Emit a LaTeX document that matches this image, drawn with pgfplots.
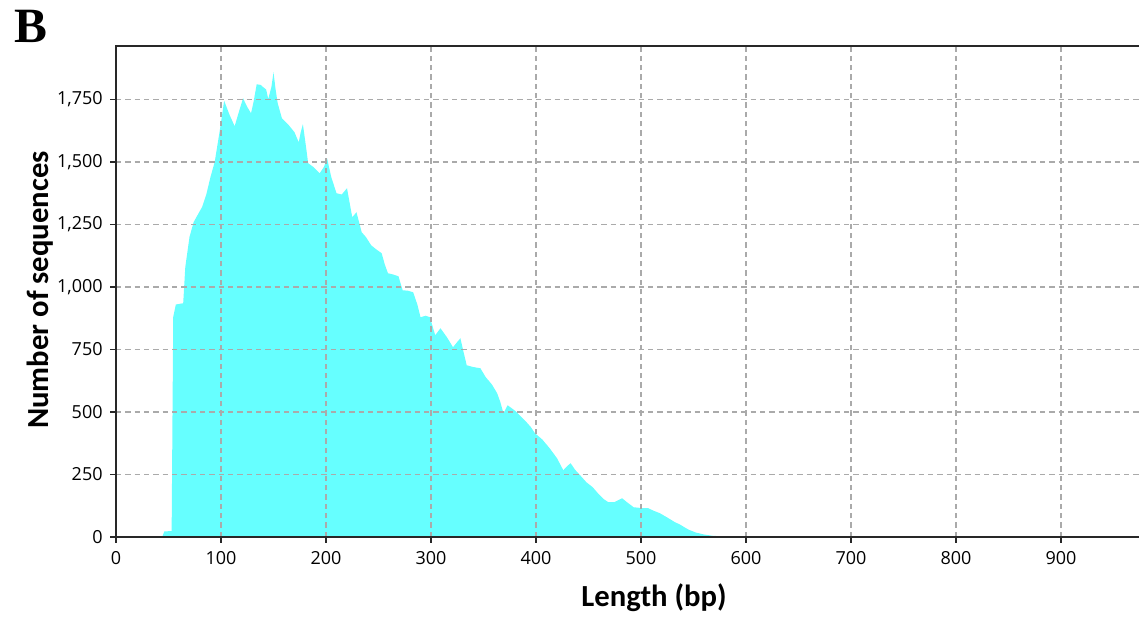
\documentclass[border=0pt]{standalone}
\usepackage{pgfplots}
\pgfplotsset{compat=1.18}
\usepackage{fontspec}
\setmainfont{Open Sans}
\newfontfamily\labfont{Carlito}
\newfontfamily\serfont{Liberation Serif}
\definecolor{fillc}{RGB}{102,255,255}
\definecolor{gridc}{RGB}{170,170,170}
\definecolor{axc}{RGB}{40,40,40}
\begin{document}
\begin{tikzpicture}
\useasboundingbox (0,0) rectangle (854.25pt,462.75pt);
\clip (0,0) rectangle (854.25pt,462.75pt);
\begin{axis}[
  at={(87pt,60pt)}, anchor=south west,
  scale only axis,
  width=787.5pt, height=368.25pt,
  xmin=0, xmax=1000, ymin=0, ymax=1964,
  xtick={0,100,...,900},
  ytick={0,250,...,1750},
  xtick pos=bottom, ytick pos=left,
  tick align=outside,
  major tick length=4.5pt,
  every tick/.style={axc, line width=1.3pt},
  axis line style={axc, line width=1.5pt},
  grid=major,
  major grid style={gridc, dashed, line width=0.8pt, dash pattern=on 4pt off 3pt},
  axis on top,
  ticklabel style={font=\fontsize{13.5}{16}\selectfont},
  /pgf/number format/1000 sep={,},
  /pgf/number format/assume math mode=true,
  xticklabel style={yshift=-3pt},
  yticklabel style={xshift=-2pt},
]
\addplot[fill=fillc, draw=none] table {
x y
44 0
46 22
53 24
54.5 880
57 930
64 935
66 1080
70 1200
74 1260
78 1290
82 1320
86 1370
90 1440
94 1500
99 1630
103 1745
108 1690
113 1643
117 1700
121 1755
125 1720
128.6 1695
131 1740
134 1811
138 1808
140 1800
143 1790
145 1752
148 1800
150 1859
152 1790
154 1735
158 1675
164 1650
170 1619
174 1579
176 1620
178 1651
181 1560
183 1495
188 1480
194 1455
198 1480
201 1515
205 1440
210 1375
215 1370
220 1395
225 1279
229 1299
234 1219
238 1200
243 1167
248 1150
253 1135
256 1090
259 1055
264 1050
269 1043
273 987
278 985
283 979
287 930
290 879
295 885
299 879
304 807
309 835
315 800
321 759
325 780
328 795
331 740
334 687
340 680
347 675
352 640
358 610
363 575
366 540
369 495
373 527
380 505
386 480
391 459
395 440
399 415
406 390
413 355
420 315
426 267
430 285
433 295
437 270
442 247
448 219
454 199
460 170
465 150
469 139
475 140
482 155
487 138
493 119
500 116
507 115
512 105
518 95
525 78
532 60
537 50
545 30
552 18
560 10
568 5
575 3
582 0
} \closedcycle;
\end{axis}
\node[anchor=base, font=\labfont\bfseries\fontsize{23}{27}\selectfont] at (490.5pt,7.5pt) {Length (bp)};
\node[anchor=base, rotate=90, font=\labfont\bfseries\fontsize{23}{27}\selectfont] at (36pt,245.25pt) {Number of sequences};
\node[anchor=base west, inner sep=0pt, font=\serfont\bfseries\fontsize{37}{40}\selectfont] at (10.5pt,430.5pt) {B};
\end{tikzpicture}
\end{document}
